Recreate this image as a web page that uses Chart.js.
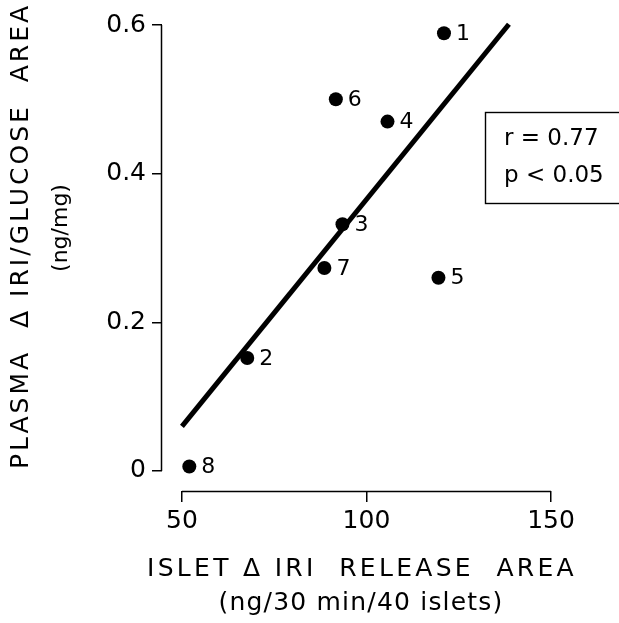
<!DOCTYPE html>
<html>
<head>
<meta charset="utf-8">
<script src="https://cdn.jsdelivr.net/npm/chart.js@4/dist/chart.umd.min.js"></script>
<style>
html,body{margin:0;padding:0;background:#fff;}
#wrap{width:619px;height:623px;position:relative;}
</style>
</head>
<body>
<div id="wrap"><canvas id="c" width="619" height="623"></canvas></div>
<script>
// ---- data ----
const pointLabels = ['1', '2', '3', '4', '5', '6', '7', '8'];
const xValues = [121.0, 67.7, 93.5, 105.7, 119.5, 91.7, 88.6, 52.0];
const yValues = [0.589, 0.152, 0.332, 0.470, 0.260, 0.500, 0.273, 0.006];
const fitX = [50, 138.6];
const fitY = [0.060, 0.601];
const xTicks = [50, 100, 150];
const yTicks = [0, 0.2, 0.4, 0.6];
const yTickLabels = ['0', '0.2', '0.4', '0.6'];
const xTitle = ['ISLET \u0394 IRI  RELEASE  AREA', '(ng/30 min/40 islets)'];
const yTitle = ['PLASMA  \u0394 IRI/GLUCOSE  AREA', '(ng/mg)'];
const statsText = ['r = 0.77', 'p < 0.05'];

const FONT = "'DejaVu Sans', sans-serif";

const annotate = {
  id: 'annotate',
  afterDraw(chart) {
    const ctx = chart.ctx;
    const xs = chart.scales.x, ys = chart.scales.y;
    ctx.save();
    ctx.strokeStyle = '#000';
    ctx.fillStyle = '#000';
    ctx.lineWidth = 1.5;
    // bracket axis lines
    const yb = chart.chartArea.bottom + 0.5;
    ctx.beginPath();
    ctx.moveTo(xs.getPixelForValue(xTicks[0]), yb);
    ctx.lineTo(xs.getPixelForValue(xTicks[xTicks.length - 1]), yb);
    ctx.stroke();
    const xl = chart.chartArea.left - 0.5;
    ctx.beginPath();
    ctx.moveTo(xl, ys.getPixelForValue(yTicks[0]));
    ctx.lineTo(xl, ys.getPixelForValue(yTicks[yTicks.length - 1]));
    ctx.stroke();

    // point number labels
    const meta = chart.getDatasetMeta(1);
    ctx.font = '22px ' + FONT;
    ctx.textBaseline = 'middle';
    ctx.textAlign = 'left';
    meta.data.forEach((el, i) => {
      ctx.fillText(pointLabels[i], el.x + 12, el.y + 1);
    });

    // stats box
    ctx.lineWidth = 1.4;
    ctx.strokeRect(485.5, 112.5, 200, 91);
    ctx.font = '23px ' + FONT;
    ctx.letterSpacing = '0px';
    ctx.fillText(statsText[0], 504, 139);
    ctx.fillText(statsText[1], 504, 176);

    // x title
    ctx.textAlign = 'center';
    ctx.textBaseline = 'alphabetic';
    ctx.font = '25px ' + FONT;
    ctx.letterSpacing = '3.3px';
    ctx.fillText(xTitle[0], 362, 576);
    ctx.letterSpacing = '1.2px';
    ctx.fillText(xTitle[1], 361, 610);

    // y title
    ctx.save();
    ctx.translate(28, 236);
    ctx.rotate(-Math.PI / 2);
    ctx.letterSpacing = '3.0px';
    ctx.font = '25px ' + FONT;
    ctx.fillText(yTitle[0], 0, 0);
    ctx.restore();
    ctx.save();
    ctx.translate(67, 228);
    ctx.rotate(-Math.PI / 2);
    ctx.letterSpacing = '0px';
    ctx.font = '22px ' + FONT;
    ctx.fillText(yTitle[1], 0, 0);
    ctx.restore();

    ctx.restore();
  }
};

new Chart(document.getElementById('c'), {
  type: 'scatter',
  data: {
    datasets: [
      {
        type: 'line',
        data: fitX.map((x, i) => ({ x: x, y: fitY[i] })),
        borderColor: '#000',
        borderWidth: 5,
        pointRadius: 0,
        fill: false,
        clip: false,
        borderCapStyle: 'butt'
      },
      {
        data: xValues.map((x, i) => ({ x: x, y: yValues[i] })),
        backgroundColor: '#000',
        borderColor: '#000',
        borderWidth: 0,
        pointRadius: 7,
        pointHoverRadius: 7,
        clip: false
      }
    ]
  },
  options: {
    responsive: false,
    animation: false,
    devicePixelRatio: 1,
    layout: { padding: { top: 25, right: 68, left: 0, bottom: 0 } },
    plugins: { legend: { display: false }, tooltip: { enabled: false } },
    scales: {
      x: {
        type: 'linear',
        min: 44.6,
        max: 150,
        afterBuildTicks: s => { s.ticks = xTicks.map(v => ({ value: v })); },
        afterFit: s => { s.height = 132; },
        grid: { drawOnChartArea: false, drawTicks: true, tickLength: 11, color: '#000', lineWidth: 1.5 },
        border: { display: false },
        ticks: { color: '#000', font: { family: FONT, size: 25 }, padding: 4, maxRotation: 0, autoSkip: false }
      },
      y: {
        type: 'linear',
        min: -0.027,
        max: 0.6,
        afterBuildTicks: s => { s.ticks = yTicks.map(v => ({ value: v })); },
        afterFit: s => { s.width = 162; },
        grid: { drawOnChartArea: false, drawTicks: true, tickLength: 10, color: '#000', lineWidth: 1.5 },
        border: { display: false },
        ticks: {
          color: '#000', font: { family: FONT, size: 25 }, padding: 6, autoSkip: false,
          callback: v => { const i = yTicks.indexOf(v); return i >= 0 ? yTickLabels[i] : ''; }
        }
      }
    }
  },
  plugins: [annotate]
});
</script>
</body>
</html>
